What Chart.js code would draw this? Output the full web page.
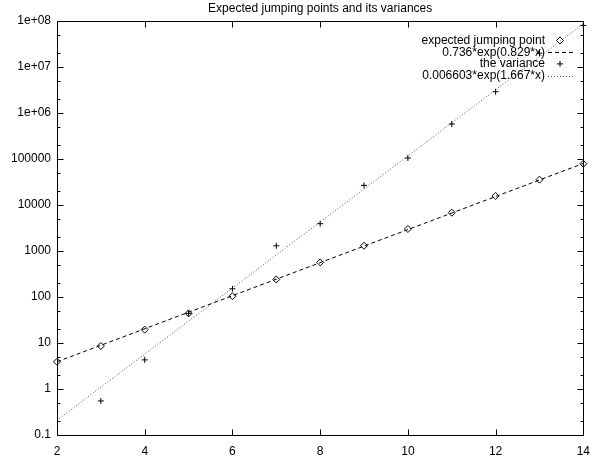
<!DOCTYPE html>
<html>
<head>
<meta charset="utf-8">
<script src="https://cdn.jsdelivr.net/npm/chart.js@4.4.0/dist/chart.umd.min.js"></script>
<style>
html, body { margin: 0; padding: 0; background: #fff; }
#wrap { width: 599px; height: 466px; }
</style>
</head>
<body>
<div id="wrap"><canvas id="myChart"></canvas></div>
<script>
// values
var xs = [2, 3, 4, 5, 6, 7, 8, 9, 10, 11, 12, 13, 14];
var jumpMean = [3.9, 8.6, 19.5, 44, 104, 241, 565, 1300, 3010, 6800, 15700, 35500, 79000];
var varX = [3, 4, 5, 6, 7, 8, 9, 10, 11, 12, 13, 14];
var variance = [0.55, 4.3, 44, 151, 1300, 3920, 26700, 105000, 576000, 2900000, 20000000, 80000000];
var fitMeanX = [2, 14];
var fitMeanY = [3.9, 80000];
var fitVarX = [2, 14];
var fitVarY = [0.21, 87000000];
var yTicks = [0.1, 1, 10, 100, 1000, 10000, 100000, 1e6, 1e7, 1e8];
var yTickLabels = ['0.1', '1', '10', '100', '1000', '10000', '100000', '1e+06', '1e+07', '1e+08'];
var xTicks = [2, 4, 6, 8, 10, 12, 14];

function pts(xv, yv) {
    return xv.map(function (x, i) { return { x: x, y: yv[i] }; });
}

var FONT = 'Liberation Sans, Arial, Helvetica, sans-serif';

// gnuplot style: box round the plot, ticks pointing inwards
var frame = {
    id: 'frame',
    afterDraw: function (chart) {
        var ctx = chart.ctx, a = chart.chartArea;
        var xs_ = chart.scales.x, ys_ = chart.scales.y;
        var L = Math.round(a.left) + 0.5, R = Math.round(a.right) + 0.5;
        var T = Math.round(a.top) + 0.5, B = Math.round(a.bottom) + 0.5;
        ctx.save();
        ctx.strokeStyle = '#000';
        ctx.lineWidth = 1;
        ctx.beginPath();
        ctx.rect(L, T, R - L, B - T);
        xTicks.forEach(function (v) {
            var px = Math.round(xs_.getPixelForValue(v)) + 0.5;
            ctx.moveTo(px, B); ctx.lineTo(px, B - 6);
            ctx.moveTo(px, T); ctx.lineTo(px, T + 6);
        });
        yTicks.forEach(function (v, i) {
            var list = [[v, 6]];
            if (i < yTicks.length - 1) { list.push([v * 2, 3]); list.push([v * 5, 3]); }
            list.forEach(function (t) {
                var py = Math.round(ys_.getPixelForValue(t[0])) + 0.5;
                ctx.moveTo(L, py); ctx.lineTo(L + t[1], py);
                ctx.moveTo(R, py); ctx.lineTo(R - t[1], py);
            });
        });
        ctx.stroke();

        // key, text right aligned, sample on the right
        ctx.font = '12px ' + FONT;
        ctx.textAlign = 'right';
        ctx.textBaseline = 'middle';
        ctx.fillStyle = '#000';
        chart.data.datasets.forEach(function (ds, i) {
            var y = 40.5 + i * 11.7;
            ctx.fillText(ds.label, 545, y);
            ctx.strokeStyle = ds.borderColor;
            ctx.lineWidth = 1;
            if (ds.showLine === false) {
                ctx.setLineDash([]);
                ctx.fillStyle = 'rgba(0,0,0,0)';
                Chart.helpers.drawPoint(ctx, { pointStyle: ds.pointStyle, radius: ds.pointRadius, rotation: 0, borderWidth: 1 }, 560, y);
                ctx.fillStyle = '#000';
            } else {
                ctx.setLineDash(ds.borderDash);
                ctx.beginPath();
                ctx.moveTo(548, Math.round(y) + 0.5);
                ctx.lineTo(573, Math.round(y) + 0.5);
                ctx.stroke();
            }
        });
        ctx.restore();
    }
};

var ctx = document.getElementById('myChart').getContext('2d');
var myChart = new Chart(ctx, {
    type: 'scatter',
    data: {
        datasets: [{
            label: 'expected jumping point',
            data: pts(xs, jumpMean),
            showLine: false,
            pointStyle: 'rectRot',
            pointRadius: 3.5,
            borderColor: '#000',
            borderWidth: 1,
            pointBackgroundColor: 'rgba(0,0,0,0)',
            clip: false
        },
        {
            label: '0.736*exp(0.829*x)',
            data: pts(fitMeanX, fitMeanY),
            showLine: true,
            borderColor: '#000',
            borderWidth: 1,
            borderDash: [4, 3],
            pointRadius: 0
        },
        {
            label: 'the variance',
            data: pts(varX, variance),
            showLine: false,
            pointStyle: 'cross',
            pointRadius: 3,
            borderColor: '#000',
            borderWidth: 1,
            clip: false
        },
        {
            label: '0.006603*exp(1.667*x)',
            data: pts(fitVarX, fitVarY),
            showLine: true,
            borderColor: '#555',
            borderWidth: 1,
            borderDash: [1, 2],
            pointRadius: 0
        }]
    },
    options: {
        responsive: true,
        maintainAspectRatio: false,
        animation: false,
        devicePixelRatio: 1,
        layout: { padding: { top: 0, right: 13, bottom: 0, left: 0 } },
        plugins: {
            legend: { display: false },
            tooltip: { enabled: false },
            title: {
                display: true,
                text: 'Expected jumping points and its variances',
                fullSize: false,
                color: '#000',
                font: { family: FONT, size: 12, weight: 'normal' },
                padding: { top: 1, bottom: 5.6 }
            }
        },
        scales: {
            x: {
                type: 'linear',
                min: 2,
                max: 14,
                grid: { display: false, drawTicks: false },
                border: { display: false },
                afterBuildTicks: function (s) { s.ticks = xTicks.map(function (v) { return { value: v }; }); },
                afterFit: function (s) { s.height = 31; },
                ticks: {
                    color: '#000',
                    padding: 9,
                    maxRotation: 0,
                    autoSkip: false,
                    font: { family: FONT, size: 12 }
                }
            },
            y: {
                type: 'logarithmic',
                min: 0.1,
                max: 1e8,
                grid: { display: false, drawTicks: false },
                border: { display: false },
                afterBuildTicks: function (s) { s.ticks = yTicks.map(function (v) { return { value: v }; }); },
                afterFit: function (s) { s.width = 57; },
                ticks: {
                    color: '#000',
                    padding: 6,
                    autoSkip: false,
                    font: { family: FONT, size: 12 },
                    callback: function (value) {
                        var i = yTicks.findIndex(function (t) { return Math.abs(Math.log10(t) - Math.log10(value)) < 1e-6; });
                        return i >= 0 ? yTickLabels[i] : '';
                    }
                }
            }
        }
    },
    plugins: [frame]
});
</script>
</body>
</html>
